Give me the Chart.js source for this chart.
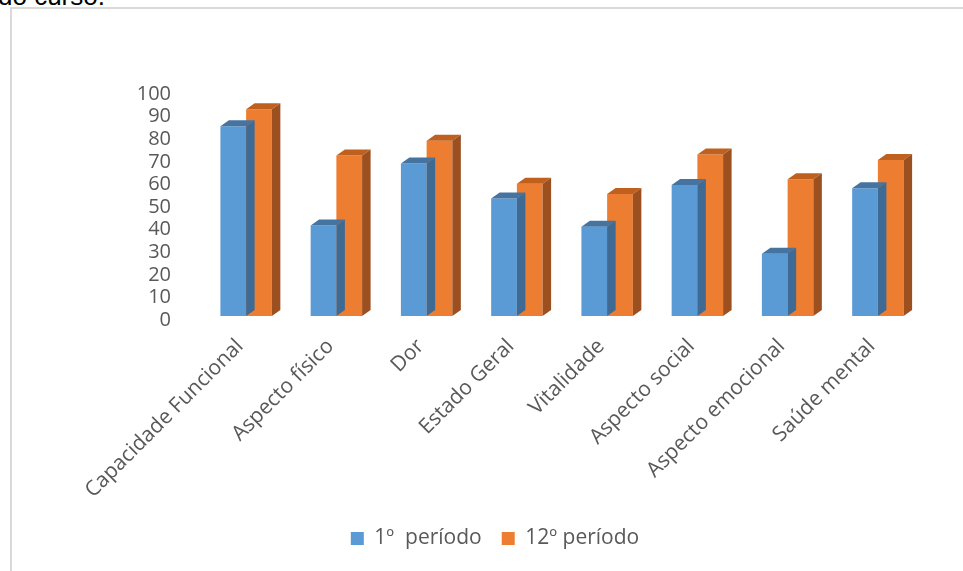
<!DOCTYPE html>
<html>
<head>
<meta charset="utf-8">
<script src="https://cdn.jsdelivr.net/npm/chart.js@4/dist/chart.umd.min.js"></script>
<style>
  html, body { margin: 0; padding: 0; background: #fff; }
  body { width: 963px; height: 571px; position: relative; overflow: hidden; }
  #topo { position: absolute; left: -2px; top: -19px; font: 26px "Liberation Sans", Arial, sans-serif; color: #000; }
  #moldura { position: absolute; left: 10px; top: 7px; width: 1000px; height: 600px;
             border-left: 2px solid #d9d9d9; border-top: 2px solid #d9d9d9; }
  #wrap { position: absolute; left: 0; top: 0; width: 963px; height: 571px; }
</style>
</head>
<body>
<div id="topo">do curso.</div>
<div id="moldura"></div>
<div id="wrap"><canvas id="grafico"></canvas></div>
<script>
const categorias = ['Capacidade Funcional', 'Aspecto físico', 'Dor', 'Estado Geral',
                    'Vitalidade', 'Aspecto social', 'Aspecto emocional', 'Saúde mental'];
const periodo1 = [84, 40, 67.5, 52, 39.5, 58, 27.5, 56.5];
const periodo12 = [91.5, 71, 77.5, 58.5, 54, 71.5, 60.5, 69];
const series = ['1º  período', '12º período'];

const fonte = '"Open Sans", sans-serif';
const cinza = '#595959';

// cores: frente, topo, lado
const cores3d = [
    { frente: '#5B9BD5', topo: '#4674A0', lado: '#3E6A93' },
    { frente: '#ED7D31', topo: '#C0601F', lado: '#9C4F1F' }
];

// faces do "3D" desenhadas logo depois de cada serie
const barras3d = {
    id: 'barras3d',
    afterDatasetDraw(chart, args) {
        const ctx = chart.ctx;
        const c = cores3d[args.index];
        const dx = 8.5, dy = 6;
        args.meta.data.forEach(bar => {
            const x0 = bar.x - bar.width / 2, x1 = bar.x + bar.width / 2;
            const top = bar.y, base = bar.base;
            ctx.save();
            ctx.fillStyle = c.topo;
            ctx.beginPath();
            ctx.moveTo(x0, top);
            ctx.lineTo(x1, top);
            ctx.lineTo(x1 + dx, top - dy);
            ctx.lineTo(x0 + dx, top - dy);
            ctx.closePath();
            ctx.fill();
            ctx.fillStyle = c.lado;
            ctx.beginPath();
            ctx.moveTo(x1, top);
            ctx.lineTo(x1 + dx, top - dy);
            ctx.lineTo(x1 + dx, base - dy);
            ctx.lineTo(x1, base);
            ctx.closePath();
            ctx.fill();
            ctx.restore();
        });
    }
};

new Chart(document.getElementById('grafico'), {
    type: 'bar',
    data: {
        labels: categorias,
        datasets: [
            { label: series[0], data: periodo1, backgroundColor: cores3d[0].frente },
            { label: series[1], data: periodo12, backgroundColor: cores3d[1].frente }
        ]
    },
    options: {
        responsive: true,
        maintainAspectRatio: false,
        animation: false,
        datasets: {
            bar: { categoryPercentage: 0.57, barPercentage: 1.0 }
        },
        layout: { padding: { left: 67, right: 40, top: 90, bottom: 12 } },
        plugins: {
            legend: {
                position: 'bottom',
                labels: {
                    color: cinza,
                    boxWidth: 13,
                    boxHeight: 13,
                    padding: 20,
                    font: { family: fonte, size: 21 }
                }
            },
            tooltip: { enabled: false }
        },
        scales: {
            x: {
                grid: { display: false, drawTicks: false },
                border: { display: false },
                ticks: {
                    color: cinza,
                    font: { family: fonte, size: 21 },
                    minRotation: 45,
                    maxRotation: 45,
                    padding: 18,
                    labelOffset: -6,
                    autoSkip: false
                },
                afterFit(scale) { scale.height = 192; }
            },
            y: {
                min: 0,
                max: 100,
                grid: { display: false, drawTicks: false },
                border: { display: false },
                ticks: {
                    stepSize: 10,
                    autoSkip: false,
                    color: cinza,
                    font: { family: fonte, size: 20 },
                    padding: 30,
                    labelOffset: 4
                },
                afterFit(scale) { scale.width = 134; }
            }
        }
    },
    plugins: [barras3d]
});
</script>
</body>
</html>
